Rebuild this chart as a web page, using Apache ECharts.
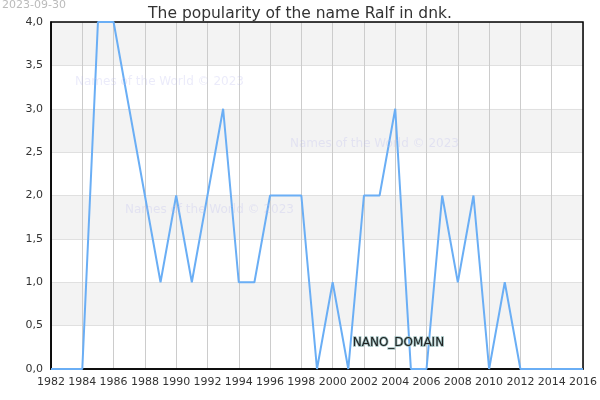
<!DOCTYPE html>
<html><head><meta charset="utf-8">
<script src="https://cdn.jsdelivr.net/npm/echarts@6/dist/echarts.min.js"></script>
<style>body{margin:0}#c{width:600px;height:400px}</style></head>
<body><div id="c"></div>
<script>
const years = [1982,1983,1984,1985,1986,1987,1988,1989,1990,1991,1992,1993,1994,1995,1996,1997,1998,1999,2000,2001,2002,2003,2004,2005,2006,2007,2008,2009,2010,2011,2012,2013,2014,2015,2016];
const values = [0,0,0,4,4,3,2,1,2,1,2,3,1,1,2,2,2,0,1,0,2,2,3,0,0,2,1,2,0,1,0,0,0,0,0];
const chart = echarts.init(document.getElementById('c'));
const wmc = 'rgba(190,190,240,0.3)';
chart.setOption({
  animation:false,
  title:{text:'The popularity of the name Ralf in dnk.',left:'center',top:1,textStyle:{fontSize:15.5,fontWeight:'normal',color:'#333',fontFamily:'DejaVu Sans'}},
  graphic:[
    {type:'text',z:100,left:2,top:0,style:{text:'2023-09-30',fill:'#bbb',font:'11px DejaVu Sans'}},
    {type:'text',z:100,left:75,top:76,style:{text:'Names of the World © 2023',fill:wmc,font:'12px DejaVu Sans'}},
    {type:'text',z:100,left:290,top:138,style:{text:'Names of the World © 2023',fill:wmc,font:'12px DejaVu Sans'}},
    {type:'text',z:100,left:125,top:204,style:{text:'Names of the World © 2023',fill:wmc,font:'12px DejaVu Sans'}},
    {type:'text',z:100,left:352,top:336,style:{text:'NANO_DOMAIN',fill:'#222',stroke:'#9bb',lineWidth:1.5,font:'12px DejaVu Sans'}}
  ],
  grid:{left:51,right:14,top:22,bottom:31,show:true,borderColor:'#000',borderWidth:1.5,z:3},
  xAxis:{type:'value',min:1982,max:2016,interval:2,
    axisLine:{lineStyle:{color:'#000',width:1.5}},axisTick:{show:false},
    axisLabel:{color:'#333',fontSize:11,fontFamily:'DejaVu Sans',showMinLabel:true,showMaxLabel:true,formatter:v=>String(v)},
    splitLine:{show:true,lineStyle:{color:'#ccc'}}},
  yAxis:{type:'value',min:0,max:4,interval:0.5,
    axisLine:{show:true,lineStyle:{color:'#000',width:1.5}},axisTick:{show:false},
    axisLabel:{color:'#333',fontSize:11,fontFamily:'DejaVu Sans',formatter:v=>v.toFixed(1).replace('.',',')},
    splitLine:{show:true,lineStyle:{color:'#e0e0e0'}},
    splitArea:{show:true,areaStyle:{color:['#ffffff','#f3f3f3']}}},
  series:[{type:'line',data:years.map((y,i)=>[y,values[i]]),symbol:'none',lineStyle:{color:'#6aaef5',width:2}}]
});
</script></body></html>
